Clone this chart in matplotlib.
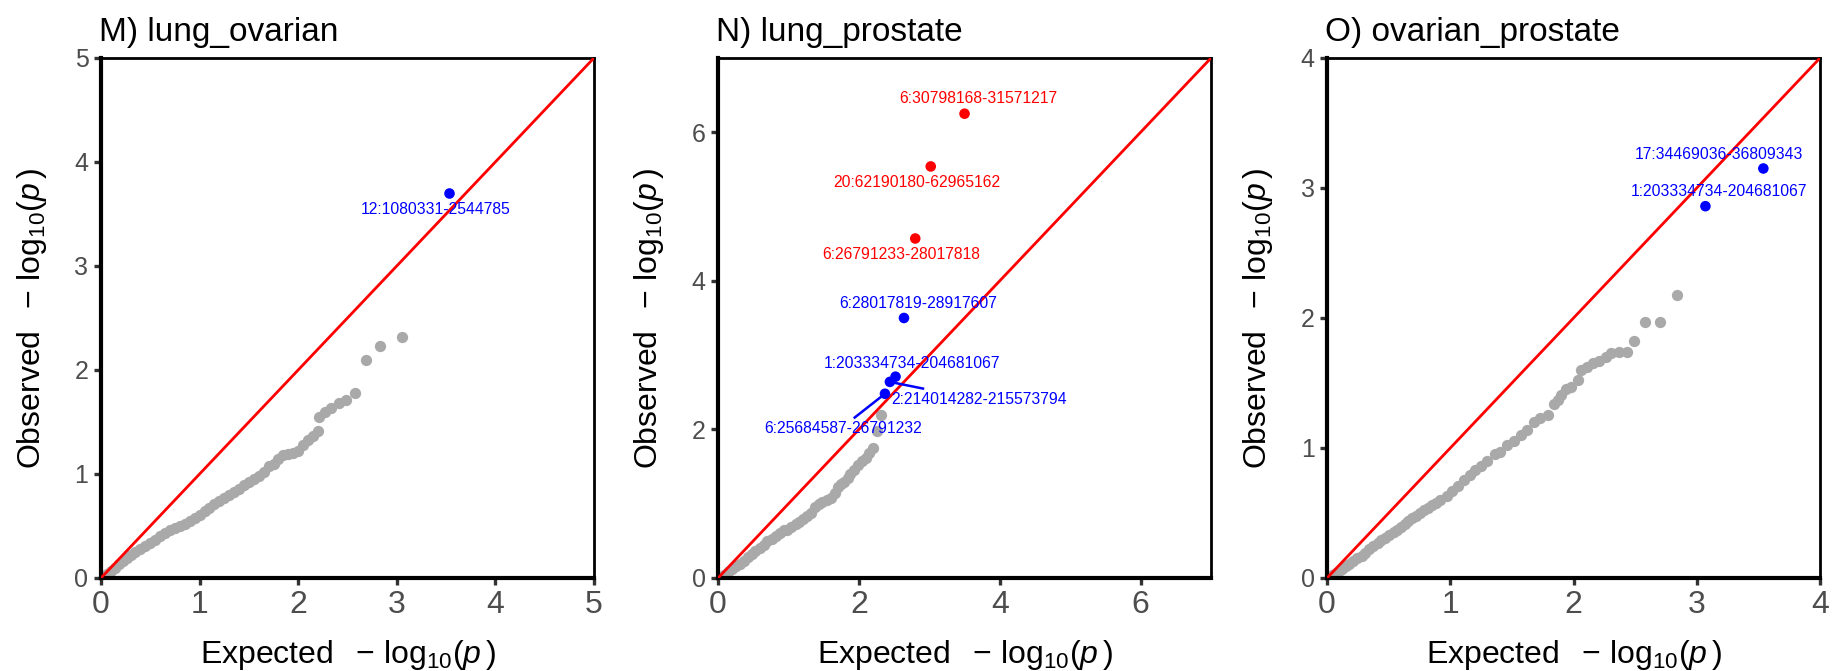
import matplotlib
matplotlib.use('Agg')
import matplotlib.pyplot as plt

plt.rcParams['font.family'] = ['Liberation Sans', 'DejaVu Sans']
plt.rcParams['mathtext.fontset'] = 'custom'
plt.rcParams['mathtext.rm'] = 'Liberation Sans'
plt.rcParams['mathtext.it'] = 'Liberation Sans:italic'

# ---- M) lung_ovarian ----
lo_exp = [0.02, 0.06, 0.10, 0.14, 0.18, 0.22, 0.26, 0.30, 0.35, 0.40, 0.45, 0.50,
          0.55, 0.60, 0.65, 0.70, 0.75, 0.80, 0.85, 0.90, 0.95, 1.00, 1.05, 1.10,
          1.15, 1.20, 1.25, 1.30, 1.35, 1.40, 1.45, 1.50, 1.55, 1.60, 1.65, 1.70,
          1.75, 1.80, 1.85, 1.90, 1.95, 2.00, 2.05, 2.10, 2.15, 2.20,
          2.21, 2.27, 2.33, 2.41, 2.49, 2.58, 2.69, 2.83, 3.05]
lo_obs = [0.02, 0.04, 0.07, 0.10, 0.13, 0.16, 0.19, 0.22, 0.25, 0.28, 0.31, 0.34,
          0.37, 0.40, 0.43, 0.46, 0.48, 0.50, 0.52, 0.55, 0.58, 0.61, 0.64, 0.67,
          0.71, 0.74, 0.77, 0.80, 0.83, 0.86, 0.89, 0.92, 0.95, 0.98, 1.02, 1.08,
          1.10, 1.14, 1.18, 1.19, 1.20, 1.22, 1.28, 1.33, 1.37, 1.41,
          1.55, 1.60, 1.63, 1.68, 1.71, 1.78, 2.10, 2.23, 2.32]
lo_hit_exp = [3.53]
lo_hit_obs = [3.70]
lo_hit_col = ['blue']
lo_hit_lab = ['12:1080331-2544785']

# ---- N) lung_prostate ----
lp_exp = [0.02, 0.08, 0.14, 0.20, 0.26, 0.31, 0.37, 0.43, 0.48, 0.53, 0.59, 0.65,
          0.70, 0.76, 0.82, 0.88, 0.93, 0.98, 1.04, 1.10, 1.15, 1.20, 1.26, 1.32,
          1.38, 1.43, 1.48, 1.54, 1.60, 1.66, 1.71, 1.75, 1.79, 1.84, 1.88, 1.93,
          1.99, 2.04, 2.10, 2.15, 2.20, 2.25, 2.31]
lp_obs = [0.01, 0.04, 0.08, 0.12, 0.16, 0.19, 0.23, 0.28, 0.32, 0.36, 0.40, 0.45,
          0.50, 0.53, 0.57, 0.61, 0.64, 0.65, 0.69, 0.73, 0.76, 0.80, 0.84, 0.88,
          0.95, 1.00, 1.02, 1.05, 1.08, 1.14, 1.23, 1.26, 1.29, 1.34, 1.40, 1.45,
          1.52, 1.57, 1.62, 1.68, 1.75, 1.98, 2.19]
lp_hit_exp = [3.50, 3.02, 2.80, 2.64, 2.52, 2.44, 2.37]
lp_hit_obs = [6.25, 5.54, 4.57, 3.50, 2.71, 2.64, 2.48]
lp_hit_col = ['red', 'red', 'red', 'blue', 'blue', 'blue', 'blue']
lp_hit_lab = ['6:30798168-31571217', '20:62190180-62965162', '6:26791233-28017818',
              '6:28017819-28917607', '1:203334734-204681067',
              '2:214014282-215573794', '6:25684587-26791232']

# ---- O) ovarian_prostate ----
op_exp = [0.04, 0.07, 0.10, 0.125, 0.15, 0.18, 0.21, 0.245, 0.28, 0.31, 0.34, 0.375,
          0.41, 0.44, 0.47, 0.505, 0.54, 0.57, 0.60, 0.63, 0.66, 0.69, 0.72, 0.755,
          0.79, 0.82, 0.85, 0.885, 0.92, 0.97, 1.01, 1.06, 1.11, 1.16, 1.20, 1.25,
          1.30, 1.36, 1.40, 1.46, 1.52, 1.57, 1.62, 1.68, 1.73, 1.79, 1.84, 1.87,
          1.90, 1.94, 1.98, 2.04, 2.06, 2.11, 2.16, 2.21, 2.26, 2.30, 2.37, 2.43,
          2.49, 2.58, 2.70, 2.84]
op_obs = [0.02, 0.035, 0.05, 0.07, 0.09, 0.11, 0.13, 0.15, 0.17, 0.195, 0.22, 0.245,
          0.27, 0.29, 0.31, 0.33, 0.35, 0.37, 0.39, 0.415, 0.44, 0.46, 0.48, 0.50,
          0.52, 0.54, 0.56, 0.58, 0.60, 0.63, 0.67, 0.71, 0.75, 0.79, 0.83, 0.86,
          0.90, 0.95, 0.97, 1.02, 1.05, 1.10, 1.14, 1.20, 1.23, 1.25, 1.34, 1.37,
          1.41, 1.45, 1.47, 1.52, 1.60, 1.62, 1.65, 1.67, 1.70, 1.73, 1.74, 1.74,
          1.82, 1.97, 1.97, 2.18]
op_hit_exp = [3.54, 3.07]
op_hit_obs = [3.15, 2.86]
op_hit_col = ['blue', 'blue']
op_hit_lab = ['17:34469036-36809343', '1:203334734-204681067']

# label centres and optional leader-segment ends, in data units
lo_lab_pos = [(3.39, 3.54)]
lp_lab_pos = [(3.70, 6.45), (2.82, 5.33), (2.60, 4.35), (2.84, 3.69),
              (2.75, 2.89), (3.70, 2.40), (1.77, 2.01)]
lp_seg_end = [None, None, None, None, None, (2.91, 2.55), (1.94, 2.16)]
op_lab_pos = [(3.18, 3.26), (3.18, 2.97)]

panels = [
    ('M) lung_ovarian', lo_exp, lo_obs, lo_hit_exp, lo_hit_obs, lo_hit_col,
     lo_hit_lab, lo_lab_pos, [None], 5, [0, 1, 2, 3, 4, 5]),
    ('N) lung_prostate', lp_exp, lp_obs, lp_hit_exp, lp_hit_obs, lp_hit_col,
     lp_hit_lab, lp_lab_pos, lp_seg_end, 7, [0, 2, 4, 6]),
    ('O) ovarian_prostate', op_exp, op_obs, op_hit_exp, op_hit_obs, op_hit_col,
     op_hit_lab, op_lab_pos, [None, None], 4, [0, 1, 2, 3, 4]),
]

fig = plt.figure(figsize=(18.36, 6.71), dpi=100)
lefts = [0.0550, 0.3911, 0.7228]

for left, (title, ex, ob, hx, hy, hc, hl, lpos, segs, lim, ticks) in zip(lefts, panels):
    ax = fig.add_axes([left, 0.1386, 0.2685, 0.775])
    ax.scatter(ex, ob, s=66, color='#A9A9A9', linewidths=0, zorder=2)
    ax.plot([0, lim], [0, lim], color='red', lw=2.0, zorder=3)
    for i in range(len(hx)):
        if segs[i] is not None:
            ax.plot([hx[i], segs[i][0]], [hy[i], segs[i][1]], color=hc[i], lw=1.8, zorder=4)
        ax.text(lpos[i][0], lpos[i][1], hl[i], color=hc[i], fontsize=11.3,
                ha='center', va='center', zorder=5)
    ax.scatter(hx, hy, s=58, color=hc, linewidths=0, zorder=6)

    ax.set_xlim(0, lim)
    ax.set_ylim(0, lim)
    ax.set_xticks(ticks)
    ax.set_yticks(ticks)
    ax.tick_params(axis='both', direction='out', length=5, width=2.4, color='#333333',
                   labelcolor='#4D4D4D', pad=4)
    ax.tick_params(axis='x', labelsize=23)
    ax.tick_params(axis='y', labelsize=18)
    for side in ['left', 'bottom']:
        ax.spines[side].set_linewidth(3.0)
    for side in ['top', 'right']:
        ax.spines[side].set_linewidth(2.0)

    ax.set_xlabel(r'Expected $\;-\,\mathrm{log}_{10}(\mathit{p}\,)$', fontsize=23)
    ax.set_ylabel(r'Observed $\;-\,\mathrm{log}_{10}(\mathit{p}\,)$', fontsize=23)
    ax.xaxis.set_label_coords(0.5, -0.115)
    ax.yaxis.set_label_coords(-0.106, 0.5)
    ax.set_title(title, loc='left', fontsize=24, pad=12, x=-0.005)

fig.savefig('out.png', dpi=100)
